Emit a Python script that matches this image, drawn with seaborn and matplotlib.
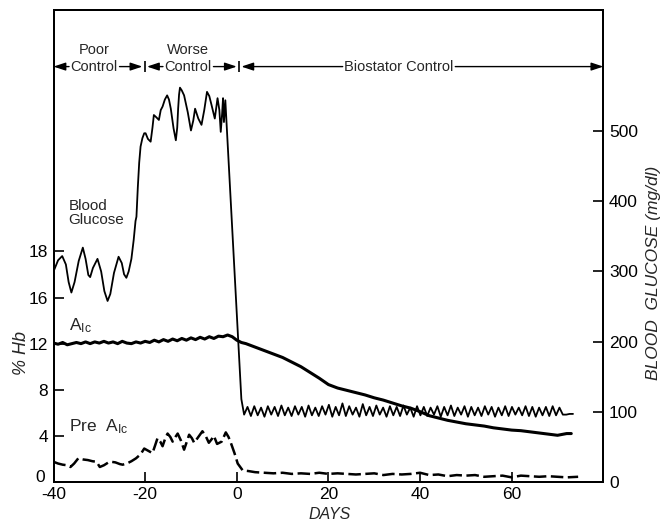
import numpy as np
import pandas as pd
import matplotlib
matplotlib.use("Agg")
import matplotlib.pyplot as plt
import matplotlib.transforms as mtransforms
import seaborn as sns

# ---------------- data ----------------
# Blood glucose (mg/dl), poor + worse control period and the fall
bg_days = [-40.0, -39.0, -38.1, -37.3, -36.7, -36.1, -35.4, -34.5, -33.6, -33.0,
           -32.4, -32.0, -31.4, -30.4, -29.6, -28.9, -28.2, -27.6, -26.8, -25.8,
           -25.1, -24.6, -24.1, -23.6, -23.0, -22.5, -22.1, -21.9, -21.6, -21.3,
           -21.0, -20.6, -20.2, -19.9, -19.4, -18.8, -18.4, -18.1, -17.6, -17.0,
           -16.6, -16.2, -15.7, -15.2, -14.8, -14.4, -13.8, -13.3, -13.0, -12.8,
           -12.6, -12.4, -12.0, -11.5, -10.7, -10.0, -9.5, -9.1, -8.4, -7.7,
           -7.1, -6.5, -6.0, -5.5, -4.8, -4.5, -4.2, -3.8, -3.5, -3.2,
           -3.0, -2.8, -2.5, 1.0]
bg_vals = [300, 316, 322, 310, 285, 270, 285, 315, 334, 318,
           295, 292, 305, 318, 300, 272, 258, 268, 298, 321,
           312, 296, 291, 300, 318, 345, 372, 378, 420, 455,
           478, 490, 497, 497, 489, 485, 505, 523, 520, 516,
           530, 535, 545, 551, 545, 532, 504, 487, 505, 532,
           552, 562, 558, 551, 527, 501, 515, 532, 518, 509,
           530, 556, 550, 537, 518, 532, 547, 530, 499, 525,
           547, 513, 544, 118]

# Blood glucose under Biostator control (sampled every 0.74 day from day 1.6)
bio_bg = [96, 107, 94, 108, 95, 106, 93, 108, 96, 107,
          94, 109, 95, 106, 94, 108, 96, 107, 93, 109,
          95, 106, 94, 108, 96, 110, 93, 107, 95, 112,
          94, 108, 96, 106, 93, 111, 95, 107, 94, 109,
          96, 106, 93, 108, 95, 107, 94, 109, 96, 106,
          93, 108, 95, 107, 94, 106, 96, 108, 93, 107,
          95, 109, 94, 106, 96, 108, 93, 107, 95, 106,
          94, 108, 96, 107, 93, 106, 95, 108, 94, 107,
          96, 106, 95, 108, 94, 107, 93, 106, 95, 107,
          94, 108, 95, 106, 96, 96, 97, 97]
bio_start, bio_step = 1.6, 0.74

# A1c (% Hb)
a1c_days = [-40, -39, -38, -37, -36, -35, -34, -33, -32, -31,
            -30, -29, -28, -27, -26, -25, -24, -23, -22, -21,
            -20, -19, -18, -17, -16, -15, -14, -13, -12, -11,
            -10, -9, -8, -7, -6, -5, -4, -3, -2, -1,
            0, 1, 2, 3, 4, 5, 6,
            8, 10, 12, 14, 16, 18, 20, 22, 24, 26,
            28, 30, 32, 34, 36, 38, 40, 42, 44, 46,
            48, 50, 52, 54, 56, 58, 60, 62, 64, 66,
            68, 70, 72, 73]
a1c_vals = [12.05, 11.95, 12.1, 11.9, 12.0, 12.1, 12.0, 12.15, 12.0, 12.15,
            12.05, 12.2, 12.05, 12.15, 12.0, 12.2, 12.05, 12.0, 12.15, 12.05,
            12.2, 12.1, 12.3, 12.15, 12.35, 12.2, 12.4, 12.25, 12.45, 12.3,
            12.5, 12.35, 12.55, 12.4, 12.6, 12.45, 12.65, 12.6, 12.75, 12.6,
            12.3, 12.1, 12.0, 11.85, 11.7, 11.55, 11.4,
            11.1, 10.8, 10.4, 10.0, 9.5, 9.0, 8.45, 8.15, 7.95, 7.75,
            7.55, 7.3, 7.1, 6.85, 6.6, 6.4, 6.1, 5.75, 5.55, 5.35,
            5.2, 5.05, 4.95, 4.85, 4.7, 4.6, 4.5, 4.45, 4.35, 4.25,
            4.15, 4.05, 4.2, 4.2]

# Pre A1c (% Hb)
pre_days = [-40, -39, -38, -37, -36.3, -35.5, -34.6, -33.5, -32.5, -31.5,
            -30.6, -29.9, -29, -28, -27.4, -26.5, -25.5, -24.9, -24, -23,
            -22, -21, -20.2, -19.3, -18.4, -17.8, -17.3, -16.7, -16.2, -15.6,
            -15.1, -14.5, -14, -13.4, -12.9, -12.2, -11.5, -10.9, -10.4, -9.8,
            -9.3, -8.4, -7.5, -6.8, -6.1, -5.5, -5, -4.6, -4.3, -3.3,
            -2.4, -1.8, -1.3, -0.5, 0.2, 1.3, 2.5, 4, 6, 8,
            10, 12, 14, 16, 18, 20, 22, 24, 26, 28,
            30, 32, 34, 36, 38, 40, 42, 44, 46, 48,
            50, 52, 54, 56, 58, 60, 62, 64, 66, 68,
            70, 72, 74.5]
pre_vals = [1.75, 1.6, 1.5, 1.45, 1.3, 1.6, 2.05, 1.95, 1.9, 1.8,
            1.75, 1.3, 1.45, 1.7, 1.75, 1.7, 1.55, 1.5, 1.6, 1.8,
            2.05, 2.4, 2.9, 2.7, 2.5, 3.2, 3.8, 3.5, 3.1, 3.8,
            4.2, 3.9, 3.5, 3.9, 4.2, 3.6, 2.8, 3.5, 4.1, 3.8,
            3.4, 3.9, 4.4, 4.0, 3.4, 3.7, 4.0, 3.6, 3.3, 3.5,
            4.3, 3.9, 3.4, 2.5, 1.6, 1.0, 0.95, 0.85, 0.8, 0.75,
            0.8, 0.7, 0.75, 0.7, 0.8, 0.7, 0.75, 0.7, 0.65, 0.7,
            0.75, 0.6, 0.7, 0.65, 0.7, 0.8, 0.6, 0.65, 0.5, 0.6,
            0.55, 0.6, 0.45, 0.5, 0.55, 0.4, 0.55, 0.5, 0.45, 0.5,
            0.45, 0.4, 0.45]

x_ticks = [-40, -20, 0, 20, 40, 60]
x_tick_labels = ["-40", "-20", "0", "20", "40", "60"]
hb_tick_pos = [0, 4, 8, 12, 16, 20]
hb_tick_labels = ["0", "4", "8", "12", "16", "18"]
bg_ticks = [0, 100, 200, 300, 400, 500]

# period annotations (day coordinates): start, end, label centre
periods = [
    ("Poor", "Control", -40.0, -20.1, -31.1),
    ("Worse", "Control", -20.1, 0.5, -10.6),
    (None, "Biostator Control", 0.5, 80.0, 35.4),
]

# ---------------- plotting ----------------
sns.set_theme(style="white")
plt.rcParams["font.family"] = ["Liberation Sans", "DejaVu Sans"]
plt.rcParams["axes.unicode_minus"] = False

bio_days = list(bio_start + bio_step * np.arange(len(bio_bg)))
bg_df = pd.DataFrame({"day": bg_days + bio_days, "bg": bg_vals + bio_bg})
a1c_df = pd.DataFrame({"day": a1c_days, "hb": a1c_vals})
pre_df = pd.DataFrame({"day": pre_days, "hb": pre_vals})

fig = plt.figure(figsize=(6.68, 5.24), dpi=100)
ax = fig.add_axes([0.0801, 0.0802, 0.8231, 0.8998])
ax2 = ax.twinx()

sns.lineplot(data=a1c_df, x="day", y="hb", ax=ax, color="black", lw=2.2,
             estimator=None, sort=False)
sns.lineplot(data=pre_df, x="day", y="hb", ax=ax, color="black", lw=1.8,
             estimator=None, sort=False)
ax.lines[-1].set_dashes([5, 1.8])
sns.lineplot(data=bg_df, x="day", y="bg", ax=ax2, color="black", lw=1.3,
             estimator=None, sort=False)

ax.set_xlim(-40, 80)
ax.set_ylim(0, 40.9)
ax2.set_ylim(0, 672)

ax.set_xticks(x_ticks, x_tick_labels)
ax.set_yticks(hb_tick_pos, hb_tick_labels)
ax2.set_yticks(bg_ticks, [str(t) for t in bg_ticks])

for a in (ax, ax2):
    for s in a.spines.values():
        s.set_color("black")
        s.set_linewidth(1.4)
    a.set_xlabel("")
    a.set_ylabel("")

ax.tick_params(axis="x", direction="in", length=7, width=1.2, labelsize=12.5,
               pad=3.5, colors="black", bottom=True, top=False)
ax.tick_params(axis="y", direction="in", length=7, width=1.2, labelsize=12.5,
               pad=4, colors="black", left=True, right=False)
ax2.tick_params(axis="y", direction="in", length=7, width=1.2, labelsize=12.5,
                pad=4, colors="black", right=True, left=False)

# lift the left "0" a little so it sits above "-40", as in the reference
zero_lbl = ax.get_yticklabels()[0]
zero_lbl.set_transform(zero_lbl.get_transform()
                       + mtransforms.ScaledTranslation(-2 / 72, 4 / 72,
                                                       fig.dpi_scale_trans))

# axis titles
ax.text(-0.058, 0.274, "% Hb", transform=ax.transAxes, rotation=90,
        ha="center", va="center", fontsize=13, style="italic")
ax.text(1.091, 0.443, "BLOOD  GLUCOSE (mg/dl)", transform=ax.transAxes,
        rotation=90, ha="center", va="center", fontsize=12.5, style="italic")
ax.text(0.503, -0.068, "DAYS", transform=ax.transAxes, ha="center",
        va="center", fontsize=11.5, style="italic")

tr = ax.get_xaxis_transform()
# curve labels
ax.text(-36.7, 0.57, "Blood\nGlucose", transform=tr,
        ha="left", va="center", fontsize=11, linespacing=1.05)
ax.text(-36.6, 0.331, r"$\mathregular{A_{Ic}}$", transform=tr,
        ha="left", va="center", fontsize=12.5)
ax.text(-36.6, 0.117, r"Pre  $\mathregular{A_{Ic}}$", transform=tr,
        ha="left", va="center", fontsize=12.5)

# period arrows
y_row, y_top = 0.881, 0.916
arrow_style = "-|>,head_length=0.6,head_width=0.2"
row_texts = []
for top_line, row_line, x0, x1, xc in periods:
    if top_line:
        ax.text(xc, y_top, top_line, transform=tr, ha="center", va="center",
                fontsize=10.5)
    t = ax.text(xc, y_row, row_line, transform=tr, ha="center", va="center",
                fontsize=10.5)
    row_texts.append((t, x0, x1))

fig.canvas.draw()
inv = ax.transData.inverted()
gap = 0.35
for t, x0, x1 in row_texts:
    bb = t.get_window_extent()
    left = inv.transform((bb.x0, bb.y0))[0]
    right = inv.transform((bb.x1, bb.y0))[0]
    for start, end in ((left - gap, x0 + (0.0 if x0 == -40 else 0.5)),
                       (right + gap, x1 - (0.0 if x1 == 80 else 0.5))):
        ax.annotate("", xy=(end, y_row), xytext=(start, y_row), xycoords=tr,
                    textcoords=tr,
                    arrowprops=dict(arrowstyle=arrow_style, color="black",
                                    lw=1.0, shrinkA=0, shrinkB=0))
for b in (periods[0][3], periods[1][3]):
    ax.vlines(b, y_row - 0.011, y_row + 0.011, transform=tr, color="black",
              lw=1.2)

fig.savefig("out.png", dpi=100, facecolor="white")
